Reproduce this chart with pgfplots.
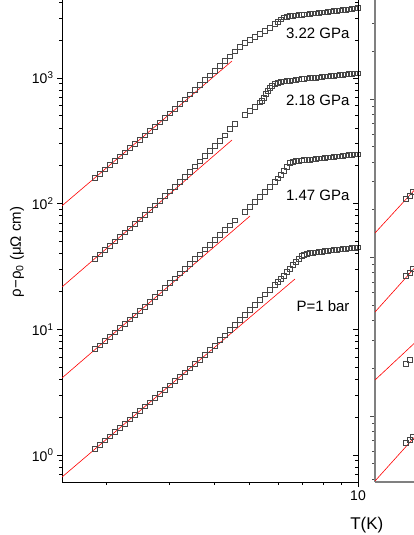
\documentclass[border=0pt]{standalone}
\usepackage{fontspec}
\setmainfont{Liberation Sans}
\usepackage{pgfplots}
\pgfplotsset{compat=1.18}
\definecolor{mk}{RGB}{70,70,70}
\pgfplotsset{dat/.style={only marks, mark=square, mark size=2.3pt, color=mk, mark options={line width=0.6pt, solid}},
  fit/.style={red, line width=0.6pt, no marks}}
\begin{document}
\begin{tikzpicture}[x=1pt,y=1pt]
\path[use as bounding box] (0,0) rectangle (414,535);
\begin{scope}
\clip (0,0) rectangle (414,535);
% ---------------- left panel ----------------
\begin{axis}[
  at={(62pt,53pt)}, anchor=south west,
  scale only axis, width=296pt, height=482pt,
  xmode=log, ymode=log,
  xmin=1.506, xmax=10, ymin=0.611, ymax=4174,
  axis x line*=bottom, axis y line*=left,
  tick align=outside,
  major tick length=5pt, minor tick length=3pt,
  xtick={10}, xticklabels={10},
  minor xtick={2,3,4,5,6,7,8,9},
  ytick={1,10,100,1000},
  yticklabels={10\textsuperscript{0},10\textsuperscript{1},10\textsuperscript{2},10\textsuperscript{3}},
  minor ytick={0.7,0.8,0.9,2,3,4,5,6,7,8,9,20,30,40,50,60,70,80,90,200,300,400,500,600,700,800,900,2000,3000,4000},
  tick label style={font=\fontsize{14}{16}\selectfont},
  every tick/.style={black, line width=0.8pt},
  axis line style={line width=0.9pt},
  xlabel={T(K)},
  xlabel style={at={(axis description cs:1.03,-0.089)}, anchor=center, font=\fontsize{17}{20}\selectfont},
  ylabel={ρ−ρ\textsubscript{0} (μΩ cm)},
  ylabel style={at={(axis description cs:-0.152,0.477)}, anchor=center, font=\fontsize{15}{18}\selectfont},
]
\addplot[fit] coordinates {(1.506,0.669)(6.683,25.18)};
\addplot[fit] coordinates {(1.506,4.106)(5.012,79.8)};
\addplot[fit] coordinates {(1.506,21.75)(4.467,321.2)};
\addplot[fit] coordinates {(1.506,96.2)(4.467,1365)};
\addplot[dat] coordinates {(1.859,1.118)(1.920,1.210)(1.983,1.307)(2.047,1.414)(2.113,1.527)(2.182,1.652)(2.253,1.784)(2.326,1.930)(2.402,2.084)(2.480,2.255)(2.560,2.436)(2.644,2.635)(2.730,2.847)(2.818,3.080)(2.910,3.325)(3.005,3.598)(3.102,3.886)(3.203,4.205)(3.307,4.541)(3.415,4.913)(3.526,5.305)(3.640,5.741)(3.758,6.257)(3.881,6.857)(4.007,7.445)(4.137,8.236)(4.272,8.944)(4.411,9.890)(4.553,10.84)(4.702,11.95)(4.854,13.02)(5.012,14.35)(5.175,15.78)(5.344,17.23)(5.517,18.96)(5.697,20.69)(5.882,22.55)(5.995,23.83)(6.111,25.18)(6.229,26.84)(6.350,28.61)(6.475,30.51)(6.598,32.53)(6.726,34.37)(6.857,36.64)(6.989,38.36)(7.079,39.43)(7.216,40.16)(7.356,40.53)(7.499,40.90)(7.644,41.13)(7.794,41.28)(7.943,41.66)(8.096,42.05)(8.254,42.28)(8.414,42.59)(8.577,42.83)(8.743,43.14)(8.913,43.38)(9.086,43.62)(9.261,43.94)(9.441,44.18)(9.624,44.43)(9.810,44.67)(9.99,44.83)};
\addplot[dat] coordinates {(1.859,6.985)(1.920,7.472)(1.983,8.085)(2.047,8.764)(2.113,9.483)(2.182,10.26)(2.253,11.10)(2.326,12.01)(2.402,12.99)(2.480,14.06)(2.560,15.21)(2.644,16.61)(2.730,18.14)(2.818,19.63)(2.910,21.46)(3.005,23.44)(3.102,25.59)(3.203,27.94)(3.307,30.51)(3.415,33.32)(3.526,36.38)(3.640,39.72)(3.758,43.38)(3.881,47.36)(4.007,51.71)(4.137,56.47)(4.272,61.78)(4.411,67.46)(4.553,73.66)(4.854,85.90)(5.012,94.11)(5.175,103.2)(5.344,113.0)(5.517,123.9)(5.697,135.8)(5.882,148.8)(5.995,158.7)(6.111,169.2)(6.229,182.0)(6.350,195.8)(6.475,210.8)(6.598,216.6)(6.726,218.6)(6.857,220.2)(6.989,221.4)(7.079,222.3)(7.216,223.5)(7.356,224.7)(7.499,225.9)(7.644,227.2)(7.794,228.9)(7.943,230.1)(8.096,231.8)(8.254,233.1)(8.414,234.4)(8.577,235.7)(8.743,237.4)(8.913,238.8)(9.086,240.4)(9.261,241.8)(9.441,243.6)(9.624,244.9)(9.810,246.3)(9.99,247.2)};
\addplot[dat] coordinates {(1.859,36.64)(1.920,39.72)(1.983,42.98)(2.047,46.50)(2.113,50.31)(2.182,54.53)(2.253,59.01)(2.326,63.86)(2.402,69.08)(2.480,75.11)(2.560,81.91)(2.644,89.28)(2.730,97.12)(2.818,105.8)(2.910,115.4)(3.005,125.5)(3.102,136.6)(3.203,148.8)(3.307,163.7)(3.415,180.1)(3.526,197.7)(3.640,217.4)(3.758,239.6)(3.881,263.5)(4.007,289.3)(4.137,318.2)(4.272,349.4)(4.411,396.5)(4.553,434.5)(4.854,507.7)(5.012,546.4)(5.175,587.9)(5.344,638.4)(5.412,656.2)(5.482,693.3)(5.553,746.0)(5.623,795.4)(5.697,832.7)(5.770,864.0)(5.882,896.3)(5.995,912.8)(6.111,929.6)(6.229,938.1)(6.350,946.6)(6.475,953.6)(6.598,960.6)(6.726,967.7)(6.857,974.8)(6.989,982.2)(7.079,985.4)(7.216,990.9)(7.356,998.2)(7.499,1004)(7.644,1009)(7.794,1015)(7.943,1022)(8.096,1028)(8.254,1033)(8.414,1039)(8.577,1045)(8.743,1053)(8.913,1058)(9.086,1064)(9.261,1070)(9.441,1076)(9.624,1082)(9.810,1088)(9.99,1092)};
\addplot[dat] coordinates {(1.859,160.4)(1.920,173.5)(1.983,187.7)(2.047,202.8)(2.113,219.4)(2.182,237.4)(2.253,256.4)(2.326,277.4)(2.402,300.1)(2.480,324.1)(2.560,350.7)(2.644,379.4)(2.730,410.0)(2.818,443.6)(2.910,479.7)(3.005,523.8)(3.102,570.8)(3.203,622.2)(3.307,679.4)(3.415,741.9)(3.526,808.6)(3.640,883.1)(3.758,964.1)(3.881,1051)(4.007,1147)(4.137,1253)(4.272,1365)(4.411,1491)(4.553,1628)(4.702,1774)(4.854,1898)(5.012,2006)(5.175,2120)(5.344,2239)(5.517,2365)(5.697,2499)(5.882,2689)(5.995,2789)(6.111,2920)(6.229,3029)(6.350,3085)(6.475,3113)(6.598,3136)(6.726,3154)(6.857,3171)(6.989,3189)(7.079,3201)(7.216,3218)(7.356,3236)(7.499,3260)(7.644,3278)(7.794,3296)(7.943,3320)(8.096,3339)(8.254,3363)(8.414,3381)(8.577,3406)(8.743,3425)(8.913,3451)(9.086,3475)(9.261,3500)(9.441,3526)(9.624,3552)(9.810,3578)(9.99,3605)};
\end{axis}
% right spine of left panel, ticks inside
\begin{axis}[
  at={(62pt,53pt)}, anchor=south west,
  scale only axis, width=296pt, height=482pt,
  xmode=log, ymode=log,
  xmin=1.506, xmax=10, ymin=0.611, ymax=4174,
  axis x line=none, axis y line*=right,
  tick align=inside,
  major tick length=5pt, minor tick length=3pt,
  ytick={1,10,100,1000}, yticklabels={},
  minor ytick={0.7,0.8,0.9,2,3,4,5,6,7,8,9,20,30,40,50,60,70,80,90,200,300,400,500,600,700,800,900,2000,3000,4000},
  every tick/.style={black, line width=0.8pt},
  axis line style={line width=0.9pt},
]
\addplot[draw=none] coordinates {(2,1)};
\end{axis}
% ---------------- right panel (cut off) ----------------
\begin{axis}[
  at={(375pt,53pt)}, anchor=south west,
  scale only axis, width=296pt, height=482pt,
  xmode=log, ymode=log,
  xmin=1.506, xmax=10, ymin=0.3834, ymax=421.3,
  axis x line*=bottom, axis y line*=left,
  tick align=outside,
  major tick length=5pt, minor tick length=3pt,
  xtick={10}, xticklabels={},
  minor xtick={2,3,4,5,6,7,8,9},
  ytick={1,10,100}, yticklabels={},
  minor ytick={0.4,0.5,0.6,0.7,0.8,0.9,2,3,4,5,6,7,8,9,20,30,40,50,60,70,80,90,200,300},
  every tick/.style={black!70, line width=0.8pt},
  axis line style={line width=1.4pt, black!50},
]
\addplot[fit] coordinates {(1.506,14.28)(2.008,29.09)};
\addplot[fit] coordinates {(1.506,4.531)(2.008,9.368)};
\addplot[fit] coordinates {(1.506,1.687)(2.008,3.106)};
\addplot[fit] coordinates {(1.506,0.389)(2.008,0.804)};
\addplot[dat] coordinates {(1.836,23.39)(1.884,24.43)(1.920,25.89)};
\addplot[dat] coordinates {(1.836,7.644)(1.884,7.984)(1.920,8.462)};
\addplot[dat] coordinates {(1.836,2.128)(1.884,2.255)};
\addplot[dat] coordinates {(1.836,0.6756)(1.884,0.7057)(1.920,0.7372)};
\end{axis}
% ---------------- pressure labels ----------------
\node[anchor=east, font=\fontsize{15}{18}\selectfont] at (353,502) {3.22 GPa};
\node[anchor=east, font=\fontsize{15}{18}\selectfont] at (353,435) {2.18 GPa};
\node[anchor=east, font=\fontsize{15}{18}\selectfont] at (353,340) {1.47 GPa};
\node[anchor=east, font=\fontsize{15}{18}\selectfont] at (353,229) {P=1 bar};
\end{scope}
\end{tikzpicture}
\end{document}
